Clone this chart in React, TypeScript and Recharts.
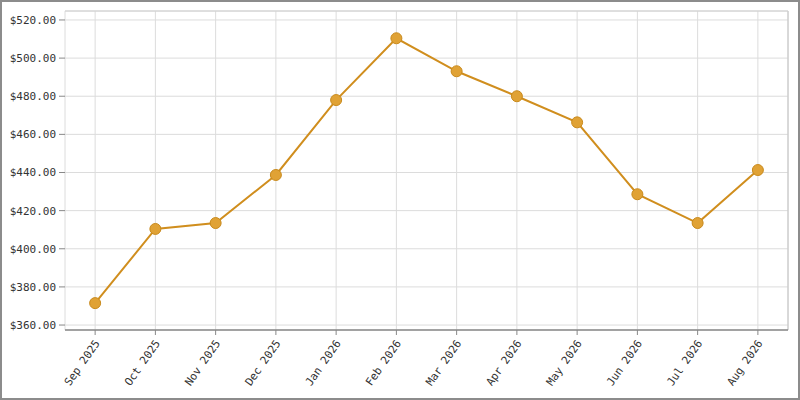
import { LineChart, Line, XAxis, YAxis, CartesianGrid } from "recharts";

const MONTHS = [
  "Sep 2025", "Oct 2025", "Nov 2025", "Dec 2025", "Jan 2026", "Feb 2026",
  "Mar 2026", "Apr 2026", "May 2026", "Jun 2026", "Jul 2026", "Aug 2026",
];
const PRICES = [371.5, 410.4, 413.5, 438.7, 478.0, 510.4, 493.1, 480.0, 466.3, 428.6, 413.5, 441.3];
const Y_DOMAIN = [357.4, 524.7];
const MAJOR_TICKS = [360, 380, 400, 420, 440, 460, 480, 500, 520];
const MINOR_TICKS = [
  360, 365, 370, 375, 380, 385, 390, 395, 400, 405, 410, 415, 420, 425, 430, 435, 440,
  445, 450, 455, 460, 465, 470, 475, 480, 485, 490, 495, 500, 505, 510, 515, 520,
];

const FONT = "'DejaVu Sans Mono', monospace";
const TEXT_COLOR = "#333";
const AXIS_COLOR = "#888";

const data = MONTHS.map((month, i) => ({ month, price: PRICES[i] }));

function MonthTick({ x, y, payload }: any) {
  return (
    <text
      transform={`translate(${x + 2},${y + 4}) rotate(-55)`}
      textAnchor="end"
      dy="0.35em"
      fontFamily={FONT}
      fontSize={11}
      fill={TEXT_COLOR}
    >
      {payload.value}
    </text>
  );
}

const NoLabel = () => <g />;

export default function App() {
  return (
    <div style={{ position: "relative", width: 800, height: 400 }}>
      <style>{"body{margin:0}"}</style>
      <LineChart
        width={800}
        height={400}
        data={data}
        margin={{ top: 10, right: 11, left: 0, bottom: 0 }}
      >
        <CartesianGrid stroke="#dcdcdc" strokeWidth={1} />
        {/* minor ticks + left axis line, sits right against the plot */}
        <YAxis
          yAxisId="minor"
          width={1}
          domain={Y_DOMAIN}
          ticks={MINOR_TICKS}
          interval={0}
          tick={NoLabel}
          tickSize={3}
          tickLine={{ stroke: AXIS_COLOR }}
          axisLine={{ stroke: AXIS_COLOR, strokeWidth: 1.5 }}
          allowDataOverflow
        />
        <YAxis
          width={64}
          domain={Y_DOMAIN}
          ticks={MAJOR_TICKS}
          interval={0}
          allowDataOverflow
          tickSize={6}
          tickMargin={3}
          tickFormatter={(v: number) => `$${v.toFixed(2)}`}
          tick={{ fontFamily: FONT, fontSize: 11, fill: TEXT_COLOR }}
          axisLine={false}
          tickLine={{ stroke: AXIS_COLOR }}
        />
        <YAxis
          yAxisId="right"
          orientation="right"
          width={1}
          tick={NoLabel}
          tickLine={false}
          axisLine={{ stroke: "#c4c4c4" }}
        />
        <XAxis
          xAxisId="top"
          orientation="top"
          dataKey="month"
          height={1}
          tick={NoLabel}
          tickLine={false}
          axisLine={{ stroke: "#d0d0d0" }}
        />
        <XAxis
          dataKey="month"
          scale="band"
          height={70}
          interval={0}
          tickSize={5}
          tick={<MonthTick />}
          axisLine={{ stroke: AXIS_COLOR, strokeWidth: 1.5 }}
          tickLine={{ stroke: AXIS_COLOR }}
        />
        <Line
          type="linear"
          dataKey="price"
          stroke="#d08e1e"
          strokeWidth={2}
          dot={{ r: 5.5, fill: "#e0a235", stroke: "#c98a1c", strokeWidth: 1 }}
          activeDot={false}
          isAnimationActive={false}
        />
      </LineChart>
      <div
        style={{
          position: "absolute",
          inset: 0,
          border: "2px solid #8c8c8c",
          pointerEvents: "none",
        }}
      />
    </div>
  );
}
